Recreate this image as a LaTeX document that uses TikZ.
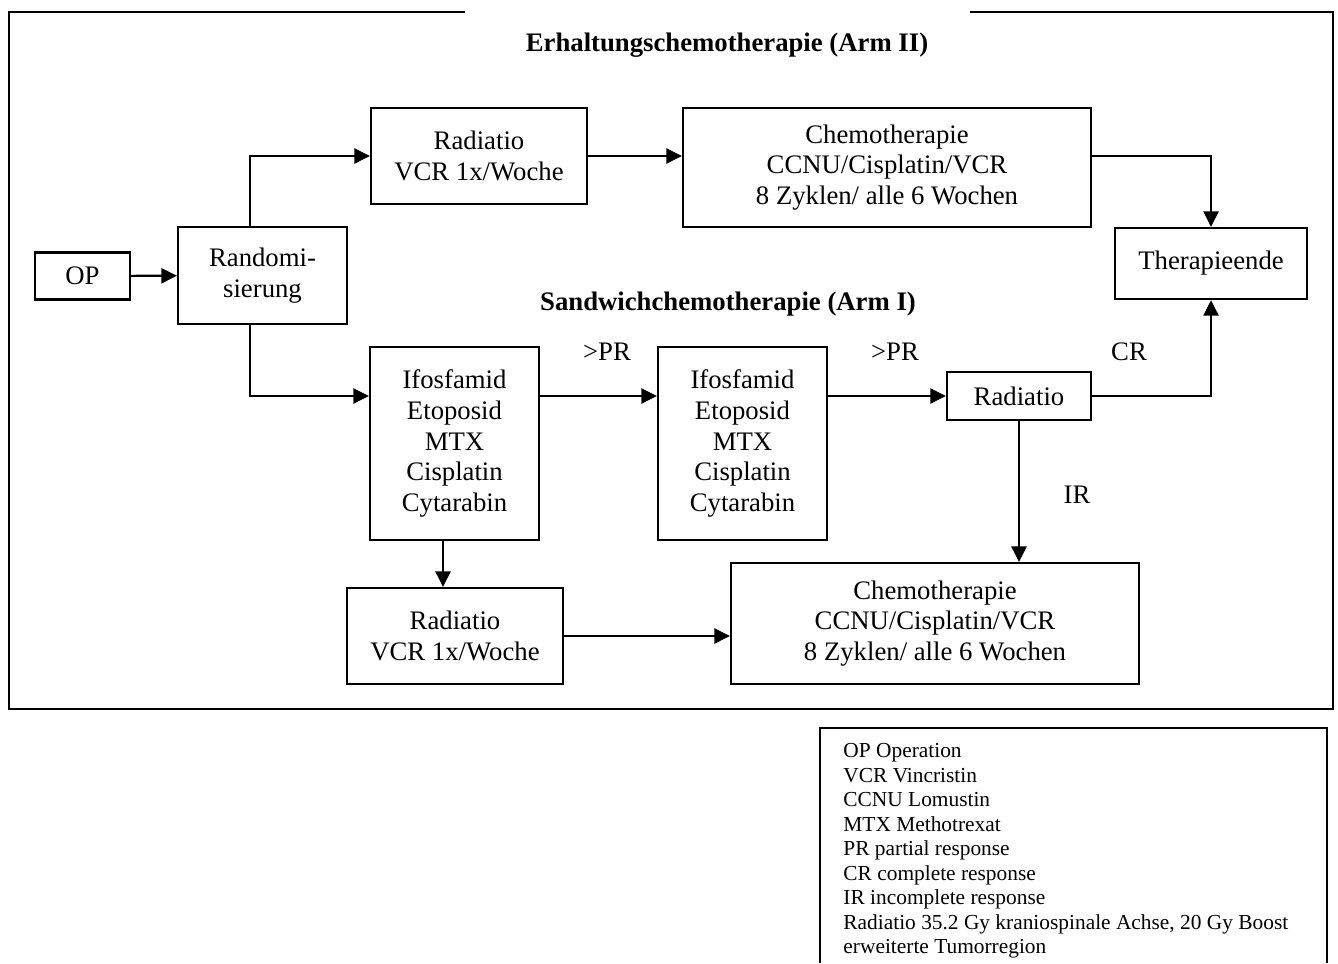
\documentclass[tikz,border=0pt]{standalone}
\usepackage{fontspec}
\setmainfont{Liberation Serif}
\usepackage{tikz}
\usetikzlibrary{arrows.meta}

\begin{document}
\begin{tikzpicture}[x=0.449pt, y=-0.449pt,
  box/.style={draw, line width=1pt, align=center, inner sep=0pt,
    font=\fontsize{12}{13.8}\selectfont},
  lbl/.style={font=\fontsize{12}{13.8}\selectfont},
  armtitle/.style={font=\fontsize{12}{13.8}\selectfont\bfseries},
  arr/.style={line width=1pt, -{Triangle[length=7pt,width=6.8pt]}}]

\useasboundingbox (0,0) rectangle (1338,963);

% outer frame, open at the top
\draw[line width=1pt] (465,12) -| (9,709) -| (1333,12) -- (970,12);

\node[armtitle] (arm2) at (727,45) {Erhaltungschemotherapie (Arm II)};
\node[armtitle] (arm1) at (728,304) {Sandwichchemotherapie (Arm I)};

\node[box, minimum width=42.7pt, minimum height=21.1pt] (op) at (82.5,276) {OP};
\node[box, minimum width=75.9pt, minimum height=43.6pt] (rand) at (262.5,275.5) {Randomi-\\sierung};
\node[box, minimum width=97pt, minimum height=43.1pt] (rad1) at (479,156) {Radiatio\\VCR 1x/Woche};
\node[box, minimum width=183.2pt, minimum height=53.4pt] (chemo1) at (887,167.5) {Chemotherapie\\CCNU/Cisplatin/VCR\\8 Zyklen/ alle 6 Wochen};
\node[box, minimum width=86.2pt, minimum height=31.9pt] (end) at (1211,263.5) {Therapieende};
\node[box, minimum width=75.9pt, minimum height=86.7pt] (ifo1) at (454.5,443.5) {Ifosfamid\\Etoposid\\MTX\\Cisplatin\\Cytarabin};
\node[box, minimum width=75.9pt, minimum height=86.7pt] (ifo2) at (742.5,443.5) {Ifosfamid\\Etoposid\\MTX\\Cisplatin\\Cytarabin};
\node[box, minimum width=64.7pt, minimum height=21.6pt] (rad2) at (1019,396) {Radiatio};
\node[box, minimum width=97pt, minimum height=43.1pt] (rad3) at (455,636) {Radiatio\\VCR 1x/Woche};
\node[box, minimum width=183.2pt, minimum height=54.3pt] (chemo2) at (935,623.5) {Chemotherapie\\CCNU/Cisplatin/VCR\\8 Zyklen/ alle 6 Wochen};

\node[lbl] (pr1) at (607,352) {>PR};
\node[lbl] (pr2) at (895,352) {>PR};
\node[lbl] (cr) at (1129,352) {CR};
\node[lbl] (ir) at (1077,495) {IR};

\coordinate (rup) at (250,227);
\coordinate (rdown) at (250,324);
\coordinate (ifodown) at (443,540);

\draw[arr] (op) -- (rand);
\draw[arr] (rup) |- (rad1.west);
\draw[arr] (rdown) |- (ifo1.west |- rad2.west);
\draw[arr] (rad1) -- (chemo1.west |- rad1);
\draw[arr] (chemo1.east |- rad1) -| (end);
\draw[arr] (ifo1.east |- rad2) -- (ifo2.west |- rad2);
\draw[arr] (ifo2.east |- rad2) -- (rad2);
\draw[arr] (rad2) -| (end);
\draw[arr] (rad2) -- (rad2 |- chemo2.north);
\draw[arr] (ifodown) -- (ifodown |- rad3.north);
\draw[arr] (rad3) -- (chemo2.west |- rad3);

% legend, bottom edge cut off
\draw[line width=1pt] (820,963) |- (1327,728) -- (1327,963);
\node[anchor=north west, align=left, inner sep=0pt,
  font=\fontsize{9.6}{11}\selectfont] (legend) at (843,743)
  {OP Operation\\VCR Vincristin\\CCNU Lomustin\\MTX Methotrexat\\PR partial response\\CR complete response\\IR incomplete response\\Radiatio 35.2 Gy kraniospinale Achse, 20 Gy Boost\\erweiterte Tumorregion};
\end{tikzpicture}
\end{document}
